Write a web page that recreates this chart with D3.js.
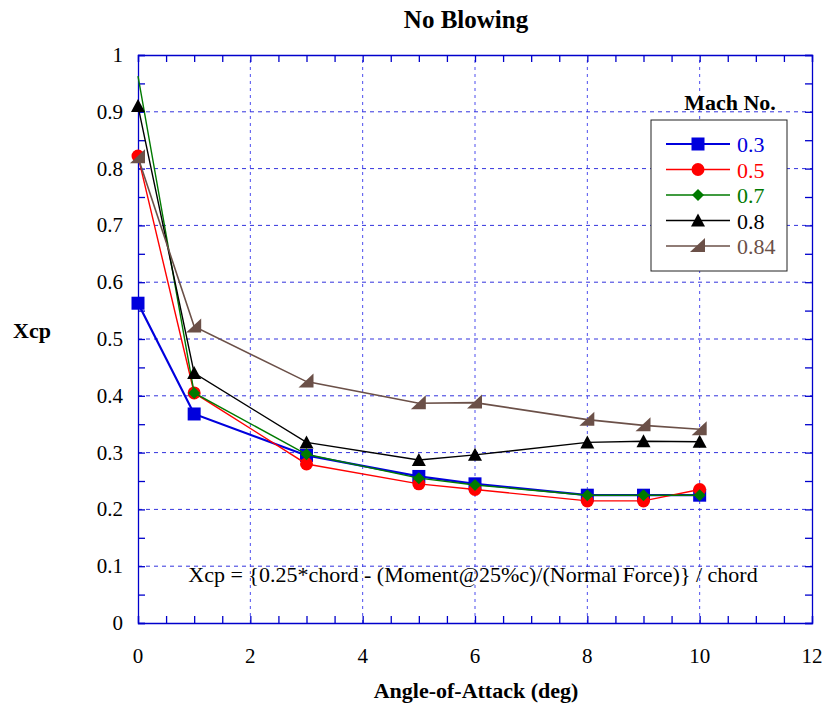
<!DOCTYPE html>
<html>
<head>
<meta charset="utf-8">
<script src="https://cdn.jsdelivr.net/npm/d3@7"></script>
<style>
body { margin:0; background:#fff; }
text { font-family: "Liberation Serif", "Times New Roman", serif; }
</style>
</head>
<body>
<script>
// data
var angles = [0, 1, 3, 5, 6, 8, 9, 10];
var machLabels = ["0.3", "0.5", "0.7", "0.8", "0.84"];
var m03 = [0.563, 0.368, 0.295, 0.258, 0.245, 0.225, 0.225, 0.225];
var m05 = [0.822, 0.405, 0.280, 0.245, 0.235, 0.215, 0.215, 0.235];
var m07 = [0.963, 0.405, 0.297, 0.255, 0.243, 0.225, 0.225, 0.225];
var m08 = [0.910, 0.440, 0.318, 0.287, 0.296, 0.318, 0.320, 0.319];
var m084 = [0.820, 0.522, 0.425, 0.387, 0.388, 0.358, 0.348, 0.341];
var xTicks = [0, 2, 4, 6, 8, 10, 12];
var yTicks = [0, 0.1, 0.2, 0.3, 0.4, 0.5, 0.6, 0.7, 0.8, 0.9, 1];

var series = [
	{name: machLabels[0], vals: m03, color: "#0000dd", shape: "square", width: 2.2},
	{name: machLabels[1], vals: m05, color: "#ff0000", shape: "circle", width: 1.4},
	{name: machLabels[2], vals: m07, color: "#007a00", shape: "diamond", width: 1.4},
	{name: machLabels[3], vals: m08, color: "#000000", shape: "triangle", width: 1.4},
	{name: machLabels[4], vals: m084, color: "#6b5048", shape: "wedge", width: 1.6}
];

var W = 826, H = 708;
var x = d3.scaleLinear().domain([0, 12]).range([138, 812]);
var y = d3.scaleLinear().domain([0, 1]).range([623, 55]);

var svg = d3.select("body").append("svg").attr("width", W).attr("height", H);

// grid
svg.append("g").selectAll("line").data(xTicks.slice(1, -1)).enter().append("line")
	.attr("x1", function(d){return x(d)}).attr("x2", function(d){return x(d)})
	.attr("y1", y(0)).attr("y2", y(1))
	.attr("stroke", "#4d4dee").attr("stroke-width", 1).attr("stroke-dasharray", "3,4");
svg.append("g").selectAll("line").data(yTicks.slice(1, -1)).enter().append("line")
	.attr("y1", function(d){return y(d)}).attr("y2", function(d){return y(d)})
	.attr("x1", x(0)).attr("x2", x(12))
	.attr("stroke", "#3333dd").attr("stroke-width", 1).attr("stroke-dasharray", "4,4");

// axes: ticks inside, labels outside
var xMinor = d3.range(0, 12.01, 0.5);
var yMinor = d3.range(0, 1.001, 0.05);
svg.append("g").attr("transform", "translate(0," + y(0) + ")")
	.call(d3.axisTop(x).tickValues(xMinor).tickSize(7).tickFormat(""));
svg.append("g").attr("transform", "translate(0," + y(1) + ")")
	.call(d3.axisBottom(x).tickValues(xMinor).tickSize(7).tickFormat(""));
svg.append("g").attr("transform", "translate(" + x(0) + ",0)")
	.call(d3.axisRight(y).tickValues(yMinor).tickSize(7).tickFormat(""));
svg.append("g").attr("transform", "translate(" + x(12) + ",0)")
	.call(d3.axisLeft(y).tickValues(yMinor).tickSize(7).tickFormat(""));
svg.selectAll(".domain, .tick line").attr("stroke", "#0000cc").attr("stroke-width", 1.3);

svg.append("g").selectAll("text").data(xTicks).enter().append("text")
	.attr("x", function(d){return x(d)}).attr("y", 663)
	.attr("text-anchor", "middle").attr("font-size", 21).text(function(d){return d});
svg.append("g").selectAll("text").data(yTicks).enter().append("text")
	.attr("x", 123).attr("y", function(d){return y(d) + 7})
	.attr("text-anchor", "end").attr("font-size", 21).text(function(d){return d3.format("~g")(d)});

// titles
svg.append("text").attr("x", 466).attr("y", 28).attr("text-anchor", "middle")
	.attr("font-size", 25).attr("font-weight", "bold").text("No Blowing");
svg.append("text").attr("x", 476).attr("y", 698).attr("text-anchor", "middle")
	.attr("font-size", 22).attr("font-weight", "bold").text("Angle-of-Attack (deg)");
svg.append("text").attr("x", 32).attr("y", 338).attr("text-anchor", "middle")
	.attr("font-size", 22).attr("font-weight", "bold").text("Xcp");
svg.append("text").attr("x", 473).attr("y", 582).attr("text-anchor", "middle")
	.attr("font-size", 22).text("Xcp = {0.25*chord - (Moment@25%c)/(Normal Force)} / chord");

function marker(g, shape, color) {
	if (shape == "square") {
		g.append("rect").attr("x", -6.5).attr("y", -6.5).attr("width", 13).attr("height", 13).attr("fill", color);
	} else if (shape == "circle") {
		g.append("circle").attr("r", 6.5).attr("fill", color);
	} else if (shape == "diamond") {
		g.append("path").attr("d", "M0,-6L6,0L0,6L-6,0Z").attr("fill", color);
	} else if (shape == "triangle") {
		g.append("path").attr("d", "M0,-7L7,6L-7,6Z").attr("fill", color);
	} else {
		g.append("path").attr("d", "M7,-8L7,6L-8,6Z").attr("fill", color);
	}
}

var line = d3.line().x(function(d){return x(d[0])}).y(function(d){return y(d[1])});

series.forEach(function(s) {
	var pts = angles.map(function(a, i){return [a, s.vals[i]]});
	svg.append("path").datum(pts).attr("d", line)
		.attr("fill", "none").attr("stroke", s.color).attr("stroke-width", s.width);
	pts.forEach(function(p) {
		// the 0.7 point at 0 deg shows no marker in the original
		if (p[1] > 0.95) return;
		var g = svg.append("g").attr("transform", "translate(" + x(p[0]) + "," + y(p[1]) + ")");
		marker(g, s.shape, s.color);
	});
});

// legend
svg.append("text").attr("x", 730).attr("y", 110).attr("text-anchor", "middle")
	.attr("font-size", 22).attr("font-weight", "bold").text("Mach No.");
svg.append("rect").attr("x", 651).attr("y", 120).attr("width", 136).attr("height", 151)
	.attr("fill", "#fff").attr("stroke", "#222").attr("stroke-width", 1);
series.forEach(function(s, i) {
	var ly = 144 + i * 25.5;
	svg.append("line").attr("x1", 666).attr("x2", 730).attr("y1", ly).attr("y2", ly)
		.attr("stroke", s.color).attr("stroke-width", s.width);
	var g = svg.append("g").attr("transform", "translate(698," + ly + ")");
	marker(g, s.shape, s.color);
	svg.append("text").attr("x", 737).attr("y", ly + 8).attr("font-size", 22)
		.attr("fill", s.color).text(s.name);
});
</script>
</body>
</html>
